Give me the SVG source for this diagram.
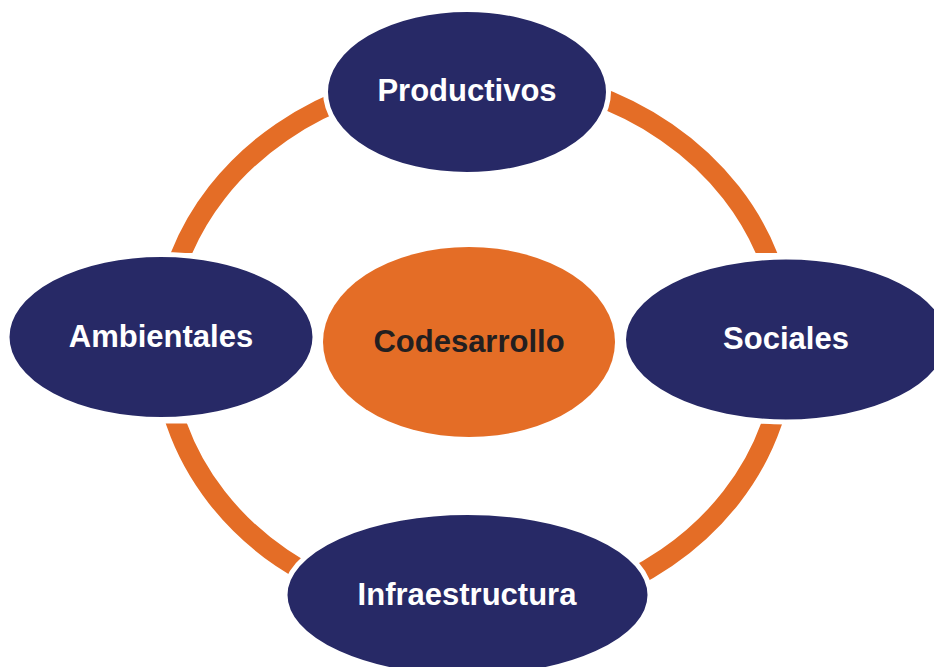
<svg xmlns="http://www.w3.org/2000/svg" width="934" height="667" viewBox="0 0 934 667">
  <style>
    .ring { fill: none; stroke: #E46D26; stroke-width: 20; stroke-linecap: butt; }
    .node { fill: #272966; stroke: #FFFFFF; stroke-width: 5; }
    .center { fill: #E46D26; }
    .label { font-family: "Liberation Sans", Arial, sans-serif; font-weight: bold; font-size: 31px; text-anchor: middle; fill: #FFFFFF; }
    .label-dark { fill: #231F20; }
  </style>
  <defs>
    <clipPath id="ringClip">
      <rect x="0" y="0" width="934" height="253"/>
      <rect x="0" y="423.5" width="934" height="243.5"/>
    </clipPath>
  </defs>
  <rect x="0" y="0" width="934" height="667" fill="#FFFFFF"/>
  <g id="connectors" clip-path="url(#ringClip)">
    <path class="ring" d="M163,345 A311,271 0 0,1 360,92.9"/>
    <path class="ring" d="M588,92.9 A311,271 0 0,1 785,345"/>
    <path class="ring" d="M785,345 A311,271 0 0,1 588,597.1"/>
    <path class="ring" d="M360,597.1 A311,271 0 0,1 163,345"/>
  </g>
  <g id="node-productivos">
    <ellipse class="node" cx="467" cy="92" rx="141.5" ry="82.5"/>
    <text class="label" x="467" y="101">Productivos</text>
  </g>
  <g id="node-ambientales">
    <ellipse class="node" cx="161" cy="337" rx="154" ry="82.5"/>
    <text class="label" x="161" y="347">Ambientales</text>
  </g>
  <g id="node-sociales">
    <ellipse class="node" cx="786" cy="339.5" rx="162.5" ry="82.5"/>
    <text class="label" x="786" y="349">Sociales</text>
  </g>
  <g id="node-infraestructura">
    <ellipse class="node" cx="467.5" cy="595" rx="182.5" ry="82.5"/>
    <text class="label" x="467" y="605">Infraestructura</text>
  </g>
  <g id="node-codesarrollo">
    <ellipse class="center" cx="469" cy="342" rx="146" ry="95"/>
    <text class="label label-dark" x="469" y="352">Codesarrollo</text>
  </g>
</svg>
